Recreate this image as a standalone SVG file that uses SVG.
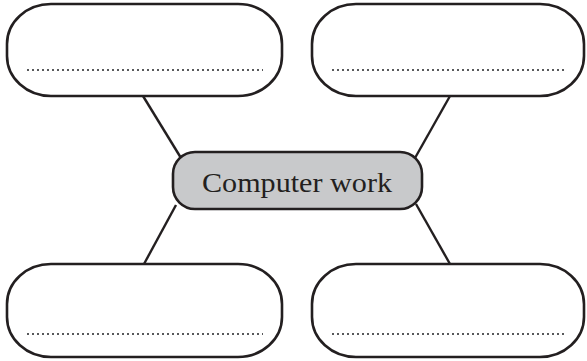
<svg xmlns="http://www.w3.org/2000/svg" width="587" height="361" viewBox="0 0 587 361">
<style>
.box{fill:#fff;stroke:#231f20;stroke-width:2.6}
.center{fill:#c8c9cb;stroke:#231f20;stroke-width:2.6}
.dots{stroke:#58595b;stroke-width:2;stroke-dasharray:2 3;fill:none}
.conn{stroke:#231f20;stroke-width:2.4;fill:none}
.label{font-family:"Liberation Serif","Times New Roman",serif;font-size:28px;fill:#231f20}
</style>
<rect width="587" height="361" fill="#fff"/>
<g id="connectors">
<line class="conn" x1="143" y1="96" x2="181" y2="158"/>
<line class="conn" x1="450" y1="96" x2="415" y2="158"/>
<line class="conn" x1="176" y1="205" x2="144" y2="264"/>
<line class="conn" x1="416" y1="204" x2="450" y2="264"/>
</g>
<g id="node-top-left">
<rect class="box" x="7" y="4" width="275" height="92" rx="44" ry="40"/>
<line class="dots" x1="27" y1="70" x2="263" y2="70"/>
</g>
<g id="node-top-right">
<rect class="box" x="312" y="4" width="272" height="92" rx="44" ry="40"/>
<line class="dots" x1="332" y1="70" x2="567" y2="70"/>
</g>
<g id="node-bottom-left">
<rect class="box" x="7" y="264" width="275" height="93" rx="44" ry="40"/>
<line class="dots" x1="27" y1="334" x2="263" y2="334"/>
</g>
<g id="node-bottom-right">
<rect class="box" x="312" y="264" width="272" height="93" rx="44" ry="40"/>
<line class="dots" x1="332" y1="334" x2="567" y2="334"/>
</g>
<g id="node-center">
<rect class="center" x="173" y="152" width="249" height="57" rx="22" ry="22"/>
<text class="label" x="297" y="192" text-anchor="middle" textLength="190" lengthAdjust="spacingAndGlyphs">Computer work</text>
</g>
</svg>
